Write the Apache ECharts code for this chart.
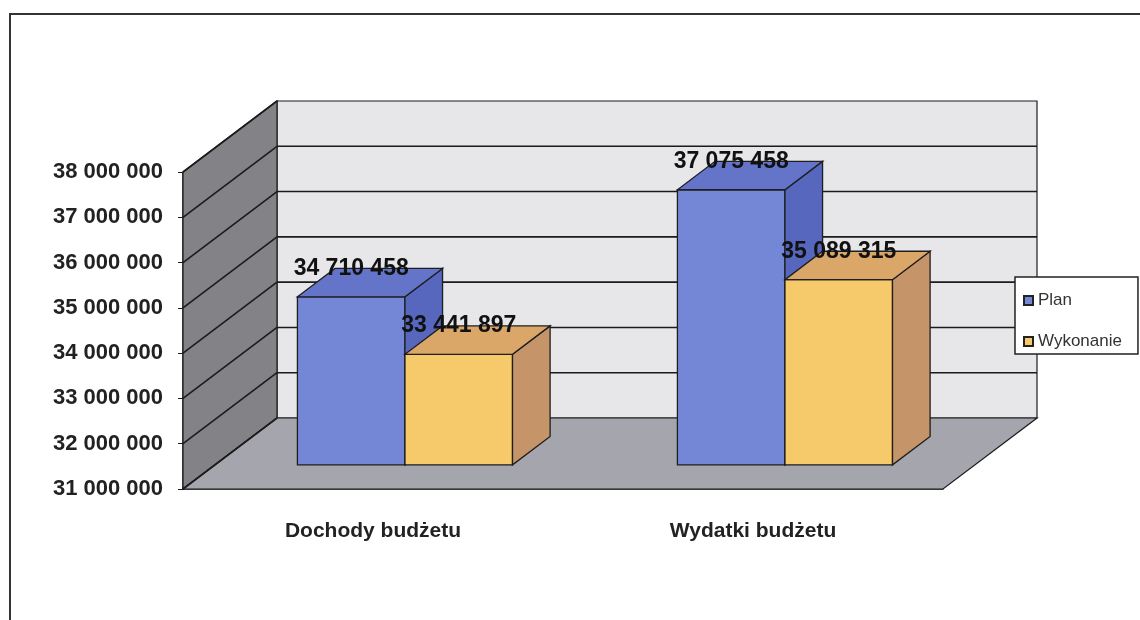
<!DOCTYPE html>
<html>
<head>
<meta charset="utf-8">
<script src="https://cdn.jsdelivr.net/npm/echarts@6/dist/echarts.min.js"></script>
<style>
  html, body { margin: 0; padding: 0; background: #fff; }
  #chart { width: 1140px; height: 620px; }
</style>
</head>
<body>
<div id="chart"></div>
<script>
const categories = ['Dochody budżetu', 'Wydatki budżetu']
const planValues = [34710458, 37075458]
const wykonanieValues = [33441897, 35089315]
const yTicks = [31000000, 32000000, 33000000, 34000000, 35000000, 36000000, 37000000, 38000000]

const yMin = yTicks[0]
const yMax = yTicks[yTicks.length - 1]

// fake 3D: depth of the whole plot and where the bars sit inside it
const DX = 94
const DY = -71
const F1 = 0.34
const F2 = 0.74
const GROUP = 0.566

const FONT = 'Arial, "Liberation Sans", sans-serif'

function fmt(v) {
  return String(v).replace(/\B(?=(\d{3})+(?!\d))/g, ' ')
}

function renderWalls(params, api) {
  const cs = params.coordSys
  const x0 = cs.x
  const x1 = cs.x + cs.width
  const yb = api.coord([0, yMin])[1]
  const yt = api.coord([0, yMax])[1]
  const line = { stroke: '#1b1b1b', lineWidth: 1.6 }
  const children = [
    {
      type: 'polygon',
      shape: { points: [[x0 + DX, yt + DY], [x1 + DX, yt + DY], [x1 + DX, yb + DY], [x0 + DX, yb + DY]] },
      style: { fill: '#e7e7ea', stroke: '#1b1b1b', lineWidth: 1.2 },
    },
    {
      type: 'polygon',
      shape: { points: [[x0, yt], [x0 + DX, yt + DY], [x0 + DX, yb + DY], [x0, yb]] },
      style: { fill: '#838387', stroke: '#1b1b1b', lineWidth: 1.2 },
    },
    {
      type: 'polygon',
      shape: { points: [[x0, yb], [x1, yb], [x1 + DX, yb + DY], [x0 + DX, yb + DY]] },
      style: { fill: '#a5a5ad', stroke: '#1b1b1b', lineWidth: 1.2 },
    },
  ]
  yTicks.forEach((v) => {
    const y = api.coord([0, v])[1]
    if (v !== yMin && v !== yMax) {
      children.push({ type: 'line', shape: { x1: x0 + DX, y1: y + DY, x2: x1 + DX, y2: y + DY }, style: line })
    }
    children.push({ type: 'line', shape: { x1: x0, y1: y, x2: x0 + DX, y2: y + DY }, style: line })
  })
  return { type: 'group', children }
}

function boxRenderer(slot, colors) {
  return function (params, api) {
    const cat = api.value(0)
    const val = api.value(1)
    const base = api.coord([cat, yMin])
    const top = api.coord([cat, val])
    const barW = (api.size([1, 0])[0] * GROUP) / 2
    const l = base[0] - barW + slot * barW + DX * F1
    const r = l + barW
    const t = top[1] + DY * F1
    const b = base[1] + DY * F1
    const bx = DX * (F2 - F1)
    const by = DY * (F2 - F1)
    const edge = { stroke: '#1e1e1e', lineWidth: 1.3 }
    return {
      type: 'group',
      children: [
        { type: 'polygon', shape: { points: [[l, t], [r, t], [r, b], [l, b]] }, style: { fill: colors.front, ...edge } },
        { type: 'polygon', shape: { points: [[r, t], [r + bx, t + by], [r + bx, b + by], [r, b]] }, style: { fill: colors.side, ...edge } },
        { type: 'polygon', shape: { points: [[l, t], [r, t], [r + bx, t + by], [l + bx, t + by]] }, style: { fill: colors.top, ...edge } },
        {
          type: 'text',
          z2: 100,
          style: {
            x: l + barW / 2,
            y: t + by,
            text: fmt(val),
            align: 'center',
            verticalAlign: 'middle',
            fill: '#111',
            font: 'bold 23px ' + FONT,
          },
        },
      ],
    }
  }
}

const planColors = { front: '#7486d6', side: '#5667bd', top: '#6474c9' }
const wykColors = { front: '#f6ca6b', side: '#c69469', top: '#dba769' }

const chart = echarts.init(document.getElementById('chart'))
chart.setOption({
  backgroundColor: '#fff',
  animation: false,
  graphic: [
    {
      type: 'rect',
      shape: { x: 10, y: 14, width: 1140, height: 620 },
      style: { fill: 'none', stroke: '#333', lineWidth: 2 },
    },
  ],
  legend: {
    data: ['Plan', 'Wykonanie'],
    orient: 'vertical',
    left: 1015,
    top: 277,
    padding: [15, 16, 4, 8],
    itemGap: 24,
    itemWidth: 9,
    itemHeight: 9,
    icon: 'rect',
    backgroundColor: '#fff',
    borderColor: '#222',
    borderWidth: 1.5,
    textStyle: { fontSize: 17, color: '#333', fontFamily: FONT },
  },
  grid: { left: 183, top: 172, width: 760, height: 317 },
  xAxis: {
    type: 'category',
    data: categories,
    axisLine: { lineStyle: { color: '#1b1b1b', width: 1.5 } },
    axisTick: { length: 7, lineStyle: { color: '#1b1b1b' } },
    axisLabel: { margin: 32, fontSize: 21, fontWeight: 'bold', color: '#222', fontFamily: FONT },
    splitLine: { show: false },
  },
  yAxis: {
    type: 'value',
    min: yMin,
    max: yMax,
    interval: 1000000,
    axisLine: { show: true, lineStyle: { color: '#1b1b1b', width: 1.5 } },
    axisTick: { show: true, length: 5, lineStyle: { color: '#1b1b1b' } },
    axisLabel: { margin: 20, fontSize: 22, fontWeight: 'bold', color: '#222', fontFamily: FONT, formatter: fmt },
    splitLine: { show: false },
  },
  series: [
    {
      name: 'walls',
      type: 'custom',
      silent: true,
      z: 1,
      renderItem: renderWalls,
      data: [[0, yMin]],
    },
    {
      name: 'Plan',
      type: 'custom',
      z: 2,
      itemStyle: { color: planColors.front, borderColor: '#222', borderWidth: 1 },
      renderItem: boxRenderer(0, planColors),
      data: planValues.map((v, i) => [i, v]),
    },
    {
      name: 'Wykonanie',
      type: 'custom',
      z: 2,
      itemStyle: { color: wykColors.front, borderColor: '#222', borderWidth: 1 },
      renderItem: boxRenderer(1, wykColors),
      data: wykonanieValues.map((v, i) => [i, v]),
    },
  ],
})
</script>
</body>
</html>
